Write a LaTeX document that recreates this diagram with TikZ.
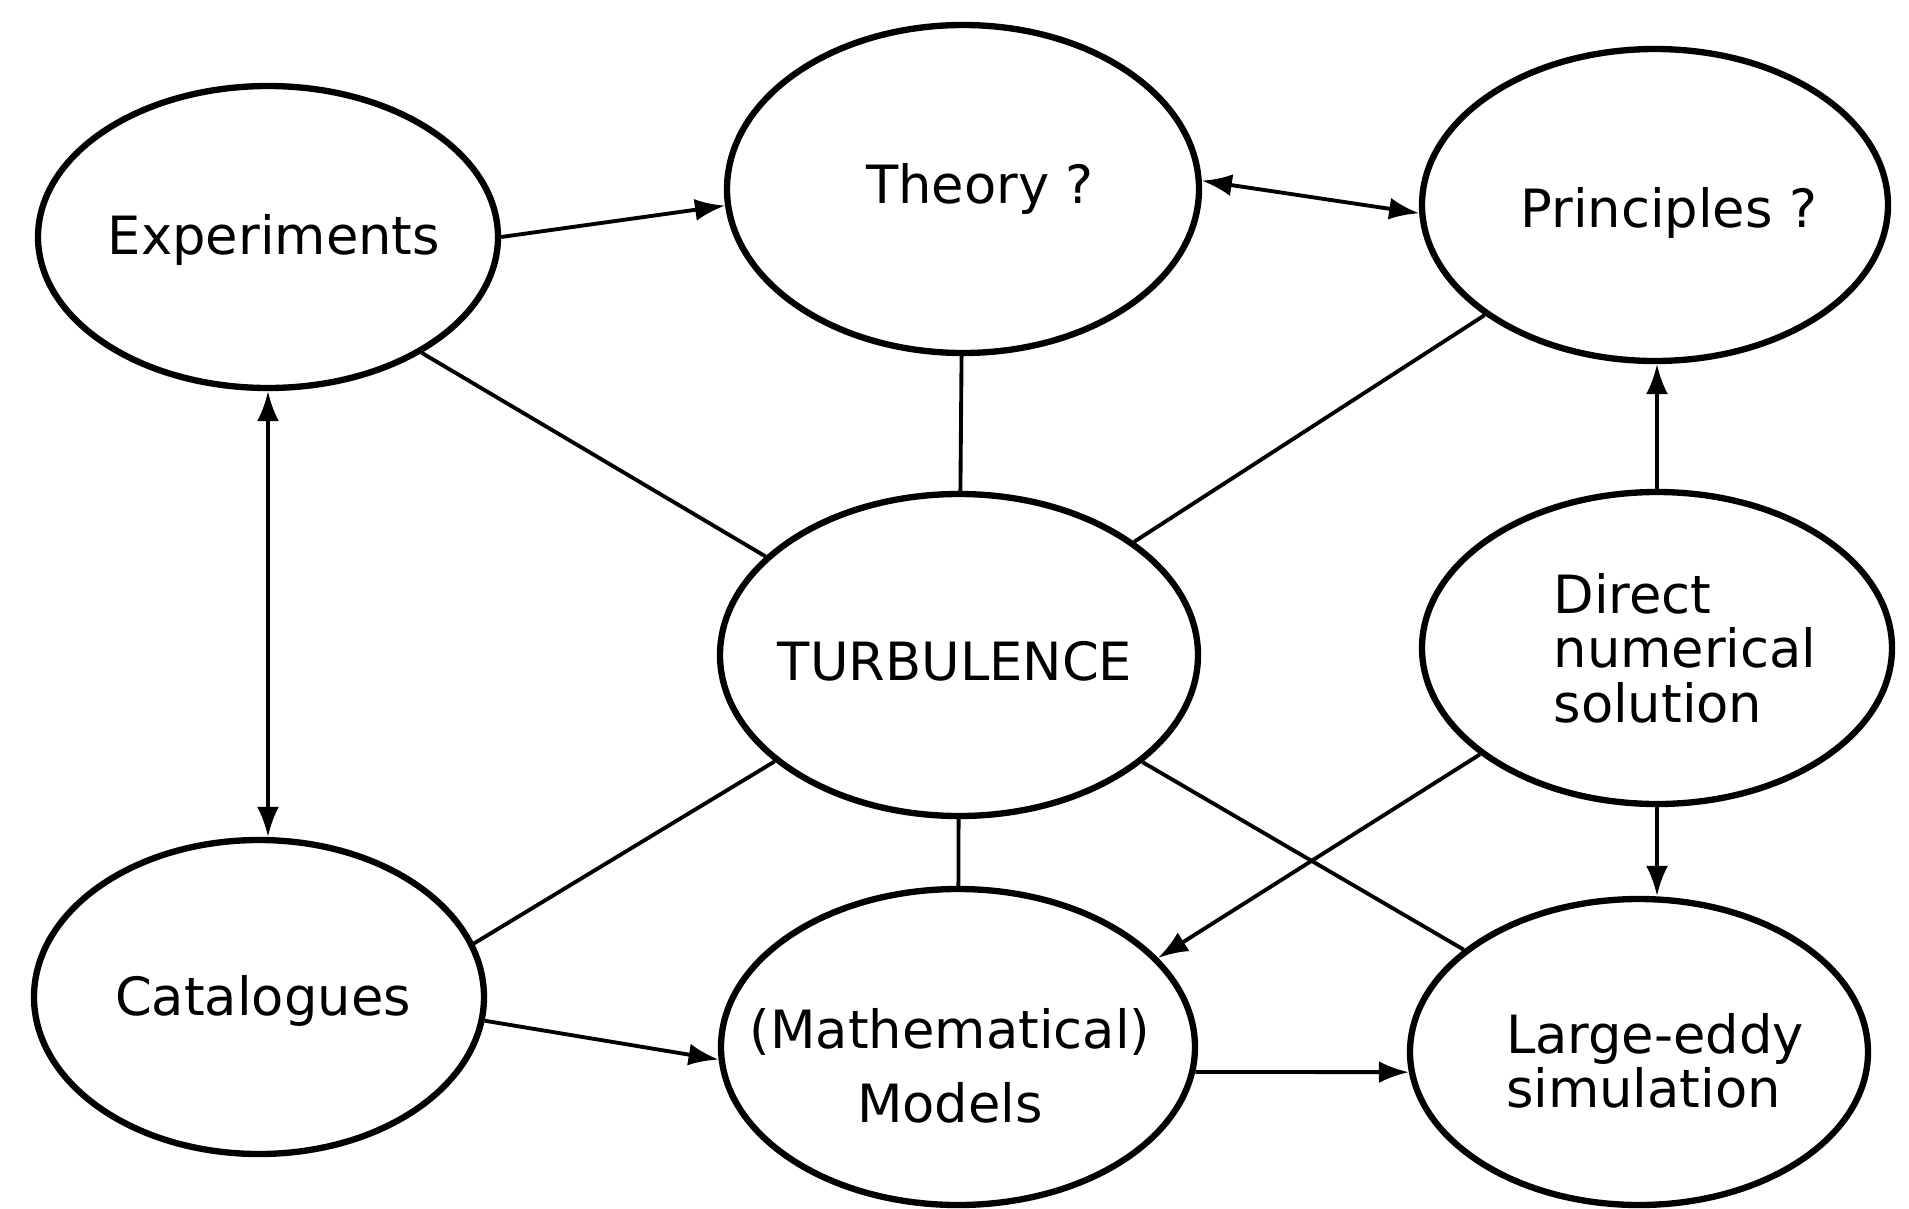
\documentclass[tikz,border=0pt]{standalone}
\usepackage{fontspec}
\setmainfont{DejaVu Sans}
\usetikzlibrary{arrows.meta,shapes.geometric}

\begin{document}
\begin{tikzpicture}[x=0.1mm,y=-0.1mm,
    blob/.style={ellipse,draw,line width=1.8pt,inner sep=0pt},
    lbl/.style={font=\fontsize{15}{15.5}\selectfont,inner sep=0pt},
    link/.style={line width=1.1pt},
    tip/.style={-{Latex[length=3mm,width=2.2mm]}},
    tips/.style={{Latex[length=3mm,width=2.2mm]}-{Latex[length=3mm,width=2.2mm]}}]
  \useasboundingbox (0,0) rectangle (1909,1208);
  % ellipses
  \foreach \n/\x/\y/\w/\h in {exp/268/237/460/302,thy/963/189/472/328,prn/1655/205/466/312,
      trb/959/655/478/322,dns/1657/648/470/312,cat/259/997/450/314,mod/958/1047/474/316,les/1639/1052/458/306}
    \node[blob,minimum width=\w*0.1mm,minimum height=\h*0.1mm] (\n) at (\x,\y) {};
  % texts
  \node[lbl] (exp-t) at (274,240) {Experiments};
  \node[lbl] (thy-t) at (980,189) {Theory ?};
  \node[lbl] (prn-t) at (1669,213) {Principles ?};
  \node[lbl] (trb-t) at (955,661) {TURBULENCE};
  \node[lbl,align=left] (dns-t) at (1685,648) {Direct\\numerical\\solution};
  \node[lbl] (cat-t) at (263,1001) {Catalogues};
  \node[lbl,align=center,font=\fontsize{15}{21}\selectfont] (mod-t) at (950,1066) {(Mathematical)\\Models};
  \node[lbl,align=left] (les-t) at (1655,1061) {Large-eddy\\simulation};
  % plain links to the centre
  \draw[link] (exp.-37) -- (trb.153);
  \draw[link] (thy) -- (trb);
  \draw[link] (prn) -- (trb);
  \draw[link] (trb.210) -- (cat.14);
  \draw[link] (trb) -- (mod);
  \draw[link] (trb) -- (les);
  % arrows
  \draw[link,tip] (exp.0) -- (thy.184);
  \draw[link,tips] (thy.2) -- (prn.182);
  \draw[link,tips] (exp.south) -- (exp.south |- cat.north);
  \draw[link,tip] (dns.north) -- (dns.north |- prn.south);
  \draw[link,tip] (dns.south) -- (dns.south |- les.north);
  \draw[link,tip] (dns.211) -- (mod.24);
  \draw[link,tip] (cat.-6) -- (mod.183);
  \draw[link,tip] (mod.-6) -- (les.185);
\end{tikzpicture}
\end{document}
